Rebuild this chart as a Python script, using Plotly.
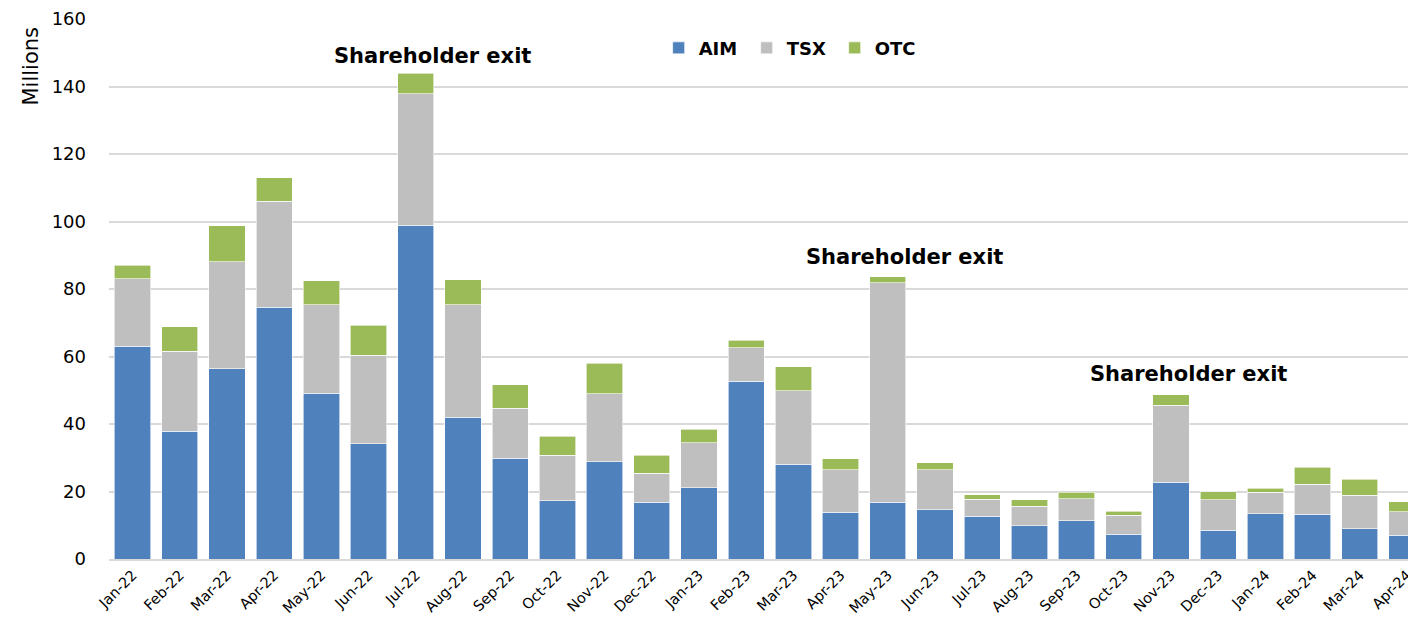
import plotly.graph_objects as go

months = ["Jan-22","Feb-22","Mar-22","Apr-22","May-22","Jun-22","Jul-22","Aug-22","Sep-22","Oct-22",
          "Nov-22","Dec-22","Jan-23","Feb-23","Mar-23","Apr-23","May-23","Jun-23","Jul-23","Aug-23",
          "Sep-23","Oct-23","Nov-23","Dec-23","Jan-24","Feb-24","Mar-24","Apr-24"]
aim = [63.1, 37.9, 56.4, 74.6, 49.1, 34.1, 98.9, 42.0, 29.8, 17.2,
       28.8, 16.8, 21.1, 52.7, 28.1, 13.8, 16.8, 14.6, 12.6, 9.8,
       11.3, 7.3, 22.8, 8.5, 13.4, 13.3, 8.9, 7.0]
tsx = [19.9, 23.7, 31.7, 31.4, 26.2, 26.2, 39.0, 33.3, 14.9, 13.5,
       20.2, 8.6, 13.3, 9.9, 21.8, 12.7, 65.0, 11.8, 5.1, 5.8,
       6.5, 5.7, 22.8, 9.0, 6.4, 8.9, 10.0, 7.0]
otc = [4.0, 7.2, 10.6, 7.0, 7.1, 9.0, 6.1, 7.5, 6.9, 5.7,
       9.0, 5.3, 4.0, 2.2, 7.1, 3.2, 1.8, 2.1, 1.4, 2.0,
       2.0, 1.2, 3.1, 2.4, 1.2, 5.0, 4.7, 3.0]
series_names = ["AIM", "TSX", "OTC"]
colors = ["#4F81BD", "#BFBFBF", "#9BBB59"]
exit_idx = [6, 16, 22]
exit_y = [149, 89.6, 54.9]
yticks = [0, 20, 40, 60, 80, 100, 120, 140, 160]

FONT = "DejaVu Sans"
x = list(range(len(months)))

fig = go.Figure()
for name, vals, col in zip(series_names, [aim, tsx, otc], colors):
    fig.add_trace(go.Bar(x=x, y=vals, name=name, marker=dict(color=col, line=dict(color="white", width=0.6))))

for i, yv in zip(exit_idx, exit_y):
    fig.add_annotation(x=i, y=yv, text="<b>Shareholder exit</b>", showarrow=False, xshift=17,
                       font=dict(family=FONT, size=21, color="black"))

fig.add_annotation(xref="paper", yref="paper", x=0, y=1, xanchor="center", yanchor="top",
                   xshift=-79, yshift=-6, text="Millions", textangle=-90, showarrow=False,
                   font=dict(family=FONT, size=21, color="black"))

fig.update_layout(
    width=1416, height=624,
    margin=dict(l=101, r=0, t=11, b=73),
    barmode="stack", bargap=0.23,
    plot_bgcolor="white", paper_bgcolor="white",
    font=dict(family=FONT, color="black"),
    showlegend=True,
    legend=dict(orientation="h", x=0.418, y=0.946, xanchor="left", yanchor="middle",
                font=dict(family=FONT, size=18, weight="bold"), entrywidth=43,
                bgcolor="rgba(0,0,0,0)", traceorder="normal"),
    xaxis=dict(tickmode="array", tickvals=x, ticktext=months, tickangle=-45,
               range=[-0.5, 27.36], showgrid=False, showline=True, linecolor="#D9D9D9", linewidth=2,
               tickfont=dict(family=FONT, size=14.5), ticks=""),
    yaxis=dict(range=[0, 160], tickvals=yticks, showgrid=True, gridcolor="#D9D9D9", gridwidth=2,
               zeroline=False, showline=False, tickfont=dict(family=FONT, size=18),
               ticklabelstandoff=22, ticks=""),
)
fig.write_html("out.html")
